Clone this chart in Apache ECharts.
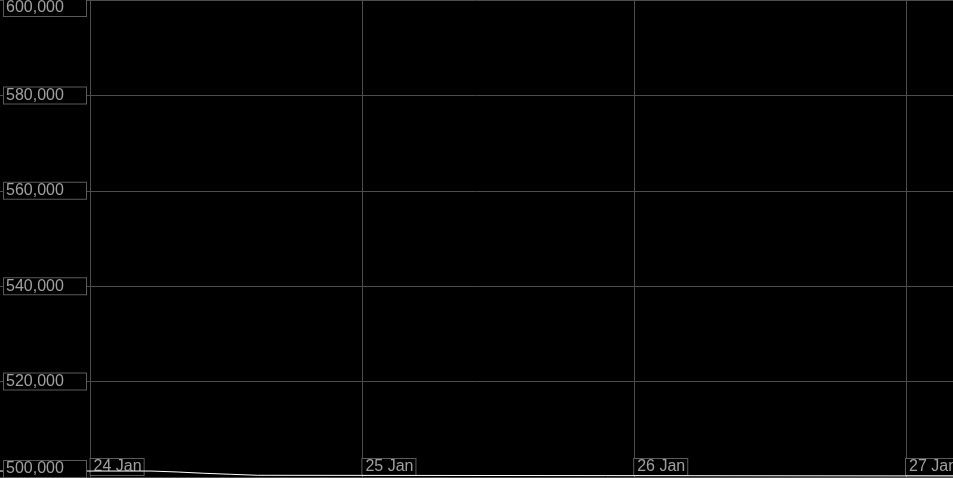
<!DOCTYPE html>
<html>
<head>
<meta charset="utf-8">
<script src="https://cdn.jsdelivr.net/npm/echarts@6/dist/echarts.min.js"></script>
<style>
  html, body { margin: 0; padding: 0; background: #000; }
  #chart { width: 953px; height: 478px; }
</style>
</head>
<body>
<div id="chart"></div>
<script>
// data
const times = ['2024-01-23 12:00', '2024-01-24 05:20', '2024-01-24 07:40', '2024-01-24 10:00', '2024-01-24 12:20', '2024-01-24 14:45', '2024-01-27 12:00'];
const values = [501250, 501050, 500780, 500570, 500360, 500200, 500200];
const yTicks = [500000, 520000, 540000, 560000, 580000, 600000];
const monthNames = ['Jan', 'Feb', 'Mar', 'Apr', 'May', 'Jun', 'Jul', 'Aug', 'Sep', 'Oct', 'Nov', 'Dec'];

const xMin = '2024-01-23 16:00';
const xMax = '2024-01-27 04:09';

const chart = echarts.init(document.getElementById('chart'));

function toTime(s) {
  const p = s.split(/[- :]/).map(Number);
  return new Date(p[0], p[1] - 1, p[2], p[3], p[4]).getTime();
}

const option = {
  backgroundColor: '#000000',
  animation: false,
  grid: { left: 0, right: 0, top: 0, bottom: 1, containLabel: false, outerBoundsMode: 'none' },
  xAxis: {
    type: 'time',
    min: toTime(xMin),
    max: toTime(xMax),
    minInterval: 86400000,
    maxInterval: 86400000,
    axisLine: { show: true, lineStyle: { color: '#555555', width: 1 } },
    axisTick: { show: false },
    splitLine: { show: true, showMinLine: false, showMaxLine: false, lineStyle: { color: '#4d4d4d', width: 1 } },
    axisLabel: {
      inside: true,
      showMinLabel: false,
      showMaxLabel: false,
      hideOverlap: false,
      margin: 2,
      align: 'left',
      verticalAlign: 'bottom',
      color: '#a0a0a0',
      fontFamily: 'Liberation Sans, Arial, sans-serif',
      fontSize: 16,
      lineHeight: 16,
      padding: [0, 2, 0, 3],
      backgroundColor: '#000000',
      borderColor: '#5a5a5a',
      borderWidth: 1,
      formatter: function (v) {
        const d = new Date(v);
        return d.getDate() + ' ' + monthNames[d.getMonth()];
      }
    }
  },
  yAxis: {
    type: 'value',
    min: yTicks[0],
    max: yTicks[yTicks.length - 1],
    interval: yTicks[1] - yTicks[0],
    axisLine: { show: false },
    axisTick: { show: false },
    splitLine: { show: true, lineStyle: { color: '#4d4d4d', width: 1 } },
    axisLabel: {
      inside: true,
      margin: 4,
      align: 'left',
      verticalAlign: 'middle',
      verticalAlignMinLabel: 'bottom',
      verticalAlignMaxLabel: 'top',
      color: '#a0a0a0',
      fontFamily: 'Liberation Sans, Arial, sans-serif',
      fontSize: 16,
      lineHeight: 16,
      width: 80,
      padding: [0, 0, 0, 2],
      backgroundColor: '#000000',
      borderColor: '#5a5a5a',
      borderWidth: 1,
      formatter: function (v) {
        return v.toLocaleString('en-US');
      }
    },
    z: 5
  },
  series: [{
    type: 'line',
    step: 'end',
    showSymbol: false,
    lineStyle: { color: '#ffffff', width: 1 },
    data: times.map((t, i) => [toTime(t), values[i]]),
    z: 1
  }]
};

chart.setOption(option);
</script>
</body>
</html>
